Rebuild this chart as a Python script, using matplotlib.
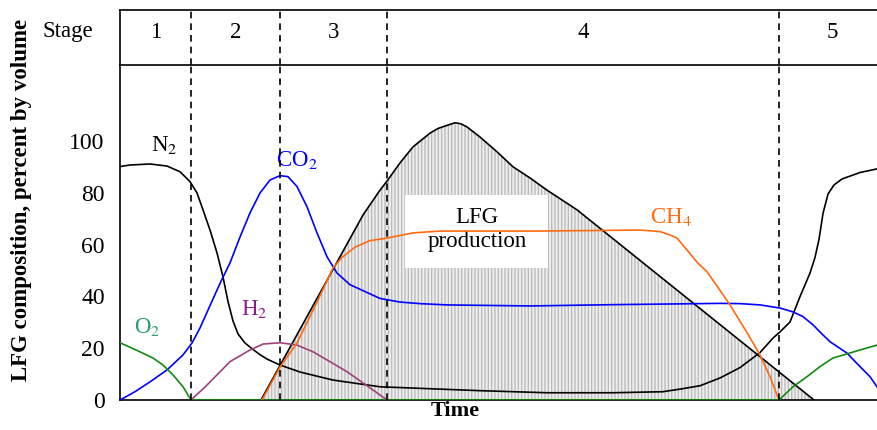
import matplotlib.pyplot as plt
from matplotlib.patches import Rectangle

plt.rcParams['font.family'] = ['Liberation Serif', 'DejaVu Serif']
plt.rcParams['mathtext.fontset'] = 'stix'
plt.rcParams['hatch.linewidth'] = 1.0
plt.rcParams['hatch.color'] = '#bdbdbd'

# time in arbitrary units, composition in percent by volume
stage_edges = [0, 71, 160, 267, 659, 765]
stage_names = ['1', '2', '3', '4', '5']

n2_t = [0, 10, 30, 47, 60, 70, 77, 83, 90, 97, 103, 108, 113, 118, 125, 133, 140, 147, 160,
        180, 213, 260, 320, 360, 427, 493, 543, 560, 580, 600, 620, 640, 653, 660, 670, 680,
        690, 695, 699, 703, 708, 714, 722, 740, 757]
n2_v = [90.1, 90.7, 91.1, 90.3, 88.1, 84.3, 79.9, 73.4, 65.6, 56.8, 47.5, 38, 30.5, 25.5, 22,
        19.5, 17.5, 15.8, 13.5, 10.8, 7.7, 5.1, 4.2, 3.6, 2.8, 2.8, 3.2, 4.2, 5.5, 8.5, 12.5,
        18.3, 23.9, 26.3, 30.1, 39.9, 49, 55, 62, 72, 79.5, 83, 85.3, 87.8, 89.2]

co2_t = [0, 15, 30, 47, 63, 72, 80, 93, 100, 110, 120, 130, 140, 150, 160, 168, 177, 187, 197,
         207, 217, 230, 247, 260, 280, 300, 327, 410, 493, 560, 600, 620, 640, 660, 673, 683,
         693, 703, 710, 727, 740, 750, 757]
co2_v = [0, 3.2, 7, 11.6, 17.4, 22, 27.8, 39, 45, 52.9, 62.9, 72.2, 79.9, 84.9, 86.6, 86.2,
         82.4, 74.6, 64.5, 55.3, 49, 44.5, 41.5, 39.2, 37.8, 37.2, 36.7, 36.3, 36.8, 37.1, 37.3,
         37.2, 36.7, 35.5, 34, 32.2, 29, 25.1, 22.5, 18.1, 12.9, 9, 5.1]

o2_t = [0, 20, 33, 43, 53, 63, 71, 659, 673, 687, 700, 713, 727, 740, 757]
o2_v = [22.1, 18.6, 16.2, 13.5, 9.7, 5.1, 0, 0, 5.1, 9, 12.9, 16.2, 17.8, 19.3, 21.2]

h2_t = [71, 85, 97, 110, 130, 143, 160, 177, 193, 210, 227, 243, 267]
h2_v = [0, 5, 9.7, 14.8, 19.3, 21.6, 22.1, 21.2, 18.6, 14.8, 10.9, 6.6, 0]

ch4_t = [142, 160, 177, 198, 213, 222, 235, 250, 267, 293, 320, 417, 520, 540, 550, 557, 567,
         577, 587, 597, 610, 627, 640, 650, 659]
ch4_v = [0, 12.7, 22, 38.6, 51, 55, 59, 61.5, 62.5, 64.5, 65.2, 65.2, 65.6, 65, 63.7, 62.5,
         57.9, 53.2, 49.5, 44, 36.7, 26, 17.4, 9, 0]

lfg_t = [141, 243, 260, 267, 280, 293, 310, 318, 327, 335, 341, 347, 360, 377, 393, 410, 427,
         457, 694]
lfg_v = [0, 71.4, 81, 84.5, 91.5, 97.7, 103, 104.8, 106, 107, 106.6, 105.4, 101.5, 95.8, 90,
         85.7, 81, 73.4, 0]

fig = plt.figure(figsize=(8.77, 4.30), dpi=100)
ax = fig.add_axes([120 / 877, 30 / 430, 757 / 877, 335 / 430])
axh = fig.add_axes([120 / 877, 365 / 430, 757 / 877, 55 / 430])

# production hatch + outline
ax.fill_between(lfg_t, 0, lfg_v, facecolor='#eeeeee', hatch='|||||', edgecolor='#bdbdbd',
                linewidth=0, zorder=1)
ax.plot(lfg_t, lfg_v, color='black', lw=1.2, zorder=3)

# label box
ax.add_patch(Rectangle((285, 51), 143, 28.2, facecolor='white', edgecolor='none', zorder=2))
ax.text(357, 65.8, 'LFG\nproduction', ha='center', va='center', fontsize=16.5,
        linespacing=1.15, zorder=2.5)

ax.plot(n2_t, n2_v, color='black', lw=1.2, zorder=4)
ax.plot(co2_t, co2_v, color='#0000ff', lw=1.2, zorder=4)
ax.plot(o2_t, o2_v, color='#118a11', lw=1.2, zorder=4)
ax.plot(h2_t, h2_v, color='#a0407a', lw=1.2, zorder=4)
ax.plot(ch4_t, ch4_v, color='#ff6a10', lw=1.2, zorder=4)

lab = 16.5
ax.text(44, 98.5, r'N$_2$', color='black', fontsize=lab, ha='center', va='center')
ax.text(177, 92.5, r'CO$_2$', color='#0000ff', fontsize=lab, ha='center', va='center')
ax.text(134, 35, r'H$_2$', color='#8b1a8b', fontsize=lab, ha='center', va='center')
ax.text(27, 28, r'O$_2$', color='#2e9e6e', fontsize=lab, ha='center', va='center')
ax.text(551, 70.5, r'CH$_4$', color='#ff6a10', fontsize=lab, ha='center', va='center')

for e in stage_edges[1:-1]:
    ax.axvline(e, color='black', ls=(0, (4, 3)), lw=1.2, zorder=5)
    axh.axvline(e, color='black', ls=(0, (4, 3)), lw=1.2, zorder=5)

for i, name in enumerate(stage_names):
    axh.text((stage_edges[i] + stage_edges[i + 1]) / 2, 0.6, name, ha='center', va='center',
             fontsize=lab)
fig.text(68 / 877, 1 - 32 / 430, 'Stage', ha='center', va='center', fontsize=lab)

ax.set_xlim(0, 757)
ax.set_ylim(0, 129.3)
axh.set_xlim(0, 757)
axh.set_ylim(0, 1)
axh.set_xticks([])
axh.set_yticks([])
for a in (ax, axh):
    a.spines['right'].set_visible(False)
    for s in ('left', 'top', 'bottom'):
        a.spines[s].set_linewidth(1.2)
ax.spines['top'].set_visible(False)

ax.set_xticks([])
ax.set_yticks([0, 20, 40, 60, 80, 100])
ax.tick_params(axis='y', length=0, pad=11, labelsize=17)
ax.set_xlabel('Time', fontsize=16, fontweight='bold', x=(455 - 120) / 757, labelpad=1)
fig.text(22 / 877, 1 - 200 / 430, 'LFG composition, percent by volume', rotation=90,
         ha='center', va='center', fontsize=16.5, fontweight='bold')

fig.savefig('out.png', dpi=100)
